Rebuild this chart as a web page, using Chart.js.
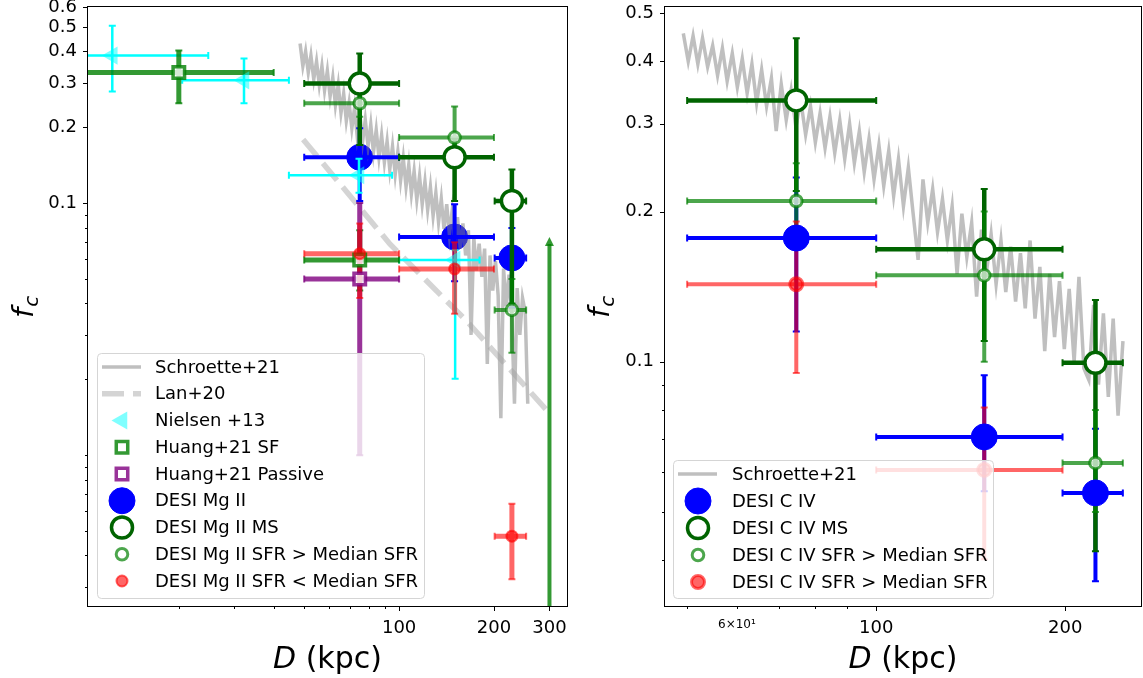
<!DOCTYPE html>
<html>
<head>
<meta charset="utf-8">
<script src="https://cdn.jsdelivr.net/npm/chart.js@4.4.1/dist/chart.umd.min.js"></script>
<style>
  body { margin: 0; background: #fff; }
  #wrap { position: relative; width: 1143px; height: 678px; overflow: hidden; }
  canvas { position: absolute; top: 0; }
  #mg { left: 0; }
  #civ { left: 585px; }
</style>
</head>
<body>
<div id="wrap">
  <canvas id="mg" width="585" height="678"></canvas>
  <canvas id="civ" width="558" height="678"></canvas>
</div>
<script>
// ---------- left panel : Mg II ----------
const mgD       = [75, 150, 228];
const mgDLo     = [50, 100, 201];
const mgDHi     = [100, 200, 253];
const mgAll     = [0.152, 0.0734, 0.0606];
const mgAllLo   = [0.102, 0.049, 0.0384];
const mgAllHi   = [0.198, 0.099, 0.0796];
const mgMs      = [0.298, 0.152, 0.102];
const mgMsLo    = [0.17, 0.102, 0.04];
const mgMsHi    = [0.392, 0.18, 0.136];
const mgHiSfr   = [0.249, 0.182, 0.0377];
const mgHiSfrLo = [0.22, 0.15, 0.0255];
const mgHiSfrHi = [0.28, 0.242, 0.05];
const mgLoSfr   = [0.063, 0.0548, 0.00477];
const mgLoSfrLo = [0.042, 0.0364, 0.00322];
const mgLoSfrHi = [0.083, 0.07, 0.00641];

const nielsenD    = [12.3, 32.2, 74.6, 150.6];
const nielsenDLo  = [10, 20.5, 44.7, 100];
const nielsenDHi  = [24.8, 44.7, 95, 180];
const nielsenFc   = [0.385, 0.307, 0.129, 0.0595];
const nielsenFcLo = [0.277, 0.249, 0.11, 0.0201];
const nielsenFcHi = [0.506, 0.375, 0.15, 0.065];

const huangSfD    = [20, 75];
const huangSfDLo  = [10, 50];
const huangSfDHi  = [40, 100];
const huangSfFc   = [0.33, 0.0595];
const huangSfFcLo = [0.249, 0.045];
const huangSfFcHi = [0.403, 0.078];
const huangLimD   = [300];       // lower limit arrow
const huangLimFc  = [0.0727];
const huangPaD    = [75];
const huangPaDLo  = [50];
const huangPaDHi  = [100];
const huangPaFc   = [0.05];
const huangPaFcLo = [0.01];
const huangPaFcHi = [0.1];

const lanD  = [49.6, 93.6, 164, 295];
const lanFc = [0.179, 0.0687, 0.034, 0.015];

// noisy Schroetter+21 Mg II curve
const schMgD = [48.5, 49.5, 50.5, 51.5, 52.5, 53.6, 54.7, 55.8, 56.9, 58.0,
  59.2, 60.4, 61.6, 62.8, 64.1, 65.4, 66.7, 68.0, 69.4, 70.8,
  72.2, 73.6, 75.1, 76.6, 78.1, 79.7, 81.3, 82.9, 84.6, 86.3,
  88.0, 89.8, 91.6, 93.4, 95.3, 97.2, 99.1, 101.1, 103.1, 105.2,
  107.3, 109.4, 111.6, 113.8, 116.1, 118.4, 120.8, 123.2, 125.7, 128.2,
  130.8, 133.4, 136.1, 138.8, 141.6, 144.4, 147.3, 150.2, 153.2, 156.3,
  159.4, 162.6, 165.9, 169.2, 172.6, 176.0, 179.5, 183.1, 186.8, 190.5,
  194.3, 198.2, 202.2, 206.2, 210.3, 214.5, 218.8, 223.2, 227.7, 232.3,
  236.9, 241.6, 246.4, 251.3, 256.0];
const schMgFc = [0.43, 0.35, 0.40, 0.33, 0.385, 0.31, 0.365, 0.295, 0.35, 0.28,
  0.335, 0.265, 0.315, 0.245, 0.295, 0.228, 0.272, 0.212, 0.25, 0.198,
  0.238, 0.185, 0.225, 0.176, 0.214, 0.168, 0.205, 0.159, 0.195, 0.152,
  0.186, 0.145, 0.176, 0.136, 0.168, 0.13, 0.16, 0.123, 0.151, 0.116,
  0.142, 0.109, 0.134, 0.103, 0.128, 0.099, 0.122, 0.094, 0.116, 0.089,
  0.11, 0.084, 0.104, 0.079, 0.099, 0.075, 0.093, 0.07, 0.088, 0.066,
  0.083, 0.062, 0.078, 0.03, 0.073, 0.054, 0.069, 0.051, 0.066, 0.023,
  0.062, 0.045, 0.059, 0.043, 0.014, 0.055, 0.039, 0.052, 0.036, 0.016,
  0.046, 0.03, 0.042, 0.037, 0.016];

// ---------- right panel : C IV ----------
const civD       = [74.6, 148.6, 223.4];
const civDLo     = [50, 100, 198];
const civDHi     = [100, 198, 247];
const civAll     = [0.177, 0.0707, 0.0546];
const civAllLo   = [0.115, 0.055, 0.0363];
const civAllHi   = [0.234, 0.094, 0.0734];
const civMs      = [0.334, 0.168, 0.0995];
const civMsLo    = [0.22, 0.11, 0.0417];
const civMsHi    = [0.445, 0.222, 0.133];
const civHiSfr   = [0.21, 0.149, 0.0627];
const civHiSfrLo = [0.175, 0.1, 0.05];
const civHiSfrHi = [0.25, 0.2, 0.08];
const civRedD    = [74.6, 148.6];
const civRedDLo  = [50, 100];
const civRedDHi  = [100, 198];
const civRed     = [0.143, 0.0607];
const civRedLo   = [0.095, 0.0402];
const civRedHi   = [0.191, 0.081];

// noisy Schroetter+21 C IV curve
const schCivD = [49.3, 50.2, 51.1, 52.0, 52.9, 53.9, 54.9, 55.9, 56.9, 57.9,
  59.0, 60.1, 61.2, 62.3, 63.4, 64.5, 65.7, 66.9, 68.1, 69.3,
  70.6, 71.9, 73.2, 74.5, 75.8, 77.2, 78.6, 80.0, 81.4, 82.9,
  84.4, 85.9, 87.5, 89.1, 90.7, 92.3, 94.0, 95.7, 97.4, 99.2,
  101.0, 102.8, 104.7, 106.6, 108.5, 110.5, 112.5, 114.5, 116.6, 118.7,
  120.8, 123.0, 125.2, 127.5, 129.8, 132.1, 134.5, 136.9, 139.4, 141.9,
  144.5, 147.1, 149.7, 152.4, 155.2, 158.0, 160.8, 163.7, 166.7, 169.7,
  172.7, 175.8, 179.0, 182.2, 185.5, 188.9, 192.3, 195.8, 199.3, 202.9,
  206.6, 210.3, 214.1, 218.0, 221.9, 225.9, 230.0, 234.2, 238.4, 242.7,
  247.1];
const schCivFc = [0.455, 0.40, 0.45, 0.395, 0.445, 0.39, 0.43, 0.375, 0.425, 0.365,
  0.415, 0.355, 0.405, 0.345, 0.395, 0.33, 0.385, 0.325, 0.37, 0.29,
  0.36, 0.305, 0.35, 0.295, 0.335, 0.285, 0.325, 0.275, 0.315, 0.268,
  0.31, 0.262, 0.305, 0.255, 0.30, 0.25, 0.29, 0.24, 0.28, 0.232,
  0.272, 0.225, 0.265, 0.215, 0.255, 0.205, 0.245, 0.198, 0.16, 0.232,
  0.19, 0.222, 0.182, 0.212, 0.175, 0.205, 0.15, 0.198, 0.162, 0.19,
  0.135, 0.184, 0.15, 0.18, 0.143, 0.175, 0.138, 0.17, 0.132, 0.165,
  0.128, 0.175, 0.122, 0.155, 0.105, 0.15, 0.112, 0.145, 0.106, 0.14,
  0.10, 0.148, 0.097, 0.092, 0.13, 0.09, 0.125, 0.085, 0.122, 0.078,
  0.11];

// ---------- ticks ----------
const mgXTicks   = [20, 30, 40, 50, 60, 70, 80, 90, 100, 200, 300];
const mgXMajor   = [100, 200, 300];
const mgXLabels  = ['100', '200', '300'];
const mgYTicks   = [0.003, 0.004, 0.005, 0.006, 0.007, 0.008, 0.009, 0.01, 0.02, 0.03, 0.04, 0.05, 0.06,
  0.07, 0.08, 0.09, 0.1, 0.2, 0.3, 0.4, 0.5, 0.6];
const mgYMajor   = [0.1, 0.2, 0.3, 0.4, 0.5, 0.6];
const mgYLabels  = ['0.1', '0.2', '0.3', '0.4', '0.5', '0.6'];
const civXTicks  = [50, 60, 70, 80, 90, 100, 200];
const civXMajor  = [100, 200];
const civXLabVal = [60, 100, 200];
const civXLabels = ['6\u00d710\u00b9', '100', '200'];
const civYTicks  = [0.04, 0.05, 0.06, 0.07, 0.08, 0.09, 0.1, 0.2, 0.3, 0.4, 0.5];
const civYMajor  = [0.1, 0.2, 0.3, 0.4, 0.5];
const civYLabels = ['0.1', '0.2', '0.3', '0.4', '0.5'];

// ---------- styles ----------
const FONT = 'DejaVu Sans';
const stBlue   = {shape: 'circle', r: 13, fill: '#0000ff', edge: '#0000ff', edgeW: 1, bar: '#0000ff', barW: 4};
const stMs     = {shape: 'circle', r: 10.5, fill: '#ffffff', edge: '#006400', edgeW: 3.5, bar: '#006400', barW: 4.5};
const stHiSfr  = {shape: 'circle', r: 5.8, fill: 'rgba(255,255,255,0.7)', edge: 'rgba(0,128,0,0.7)', edgeW: 3, bar: 'rgba(0,128,0,0.7)', barW: 4};
const stLoSfr  = {shape: 'circle', r: 5.5, fill: 'rgba(255,0,0,0.6)', edge: 'rgba(255,0,0,0.6)', edgeW: 2, bar: 'rgba(255,0,0,0.6)', barW: 5};
const stRedCiv = {shape: 'circle', r: 6.5, fill: 'rgba(255,0,0,0.6)', edge: 'rgba(255,0,0,0.6)', edgeW: 3, bar: 'rgba(255,0,0,0.6)', barW: 4};
const stHuangSf = {shape: 'rect', r: 8.1, fill: 'rgba(255,255,255,0.8)', edge: 'rgba(0,128,0,0.8)', edgeW: 3.5, bar: 'rgba(0,128,0,0.8)', barW: 5};
const stHuangPa = {shape: 'rect', r: 8.1, fill: 'rgba(255,255,255,0.8)', edge: 'rgba(128,0,128,0.8)', edgeW: 3.5, bar: 'rgba(128,0,128,0.8)', barW: 5};
const stNielsen = {shape: 'triangle', rot: -90, r: 10.5, fill: 'rgba(0,255,255,0.5)', edge: 'rgba(0,255,255,0.5)', edgeW: 0, bar: '#00ffff', barW: 2.5};
const stSch = {color: 'rgba(128,128,128,0.5)', width: 3.5};
const stLan = {color: 'rgba(160,160,160,0.45)', width: 5.5, dash: [22, 9]};

function pts(xs, ys) { return xs.map((x, i) => ({x: x, y: ys[i]})); }

function markerSet(label, d, dLo, dHi, fc, fcLo, fcHi, st) {
  return {
    label: label, data: pts(d, fc), showLine: false,
    pointStyle: st.shape, pointRadius: st.r, pointHoverRadius: st.r, pointRotation: st.rot || 0,
    pointBackgroundColor: st.fill, pointBorderColor: st.edge,
    pointBorderWidth: st.edgeW, pointHoverBorderWidth: st.edgeW,
    err: {xLo: dLo, xHi: dHi, yLo: fcLo, yHi: fcHi, color: st.bar, width: st.barW}
  };
}
function lineSet(label, d, fc, st) {
  return {
    label: label, data: pts(d, fc), showLine: true, pointRadius: 0, pointHoverRadius: 0,
    borderColor: st.color, borderWidth: st.width, borderDash: st.dash || [], tension: 0, fill: false
  };
}
function limitSet(d, fc, st) {
  return {label: '', data: pts(d, fc), showLine: false, pointRadius: 0, pointHoverRadius: 0,
    lim: {color: st.bar, width: 4}};
}

// error bars, drawn through the scales just before dataset number "at"
const errorBars = {
  id: 'errorBars',
  beforeDatasetDraw(chart, args, opts) {
    if (args.index !== opts.at) return;
    const ctx = chart.ctx, a = chart.chartArea;
    const xs = chart.scales.x, ys = chart.scales.y;
    ctx.save();
    ctx.beginPath();
    ctx.rect(a.left, a.top, a.right - a.left, a.bottom - a.top);
    ctx.clip();
    chart.data.datasets.forEach(ds => {
      if (ds.lim) {
        ds.data.forEach(p => {
          const px = xs.getPixelForValue(p.x), py = ys.getPixelForValue(p.y);
          ctx.strokeStyle = ds.lim.color; ctx.fillStyle = ds.lim.color;
          ctx.lineWidth = ds.lim.width;
          ctx.beginPath(); ctx.moveTo(px, a.bottom + 5); ctx.lineTo(px, py + 6); ctx.stroke();
          ctx.beginPath(); ctx.moveTo(px, py - 1); ctx.lineTo(px - 4.5, py + 8); ctx.lineTo(px + 4.5, py + 8);
          ctx.closePath(); ctx.fill();
        });
      }
      const e = ds.err;
      if (!e) return;
      ctx.strokeStyle = e.color;
      ds.data.forEach((p, i) => {
        const px = xs.getPixelForValue(p.x), py = ys.getPixelForValue(p.y);
        const x0 = xs.getPixelForValue(e.xLo[i]), x1 = xs.getPixelForValue(e.xHi[i]);
        const y0 = ys.getPixelForValue(e.yLo[i]), y1 = ys.getPixelForValue(e.yHi[i]);
        ctx.lineWidth = e.width; ctx.lineCap = 'butt';
        ctx.beginPath();
        ctx.moveTo(x0, py); ctx.lineTo(x1, py);
        ctx.moveTo(px, y0); ctx.lineTo(px, y1);
        ctx.stroke();
        const c = 3.5;
        ctx.lineWidth = 2;
        ctx.beginPath();
        ctx.moveTo(x0, py - c); ctx.lineTo(x0, py + c);
        ctx.moveTo(x1, py - c); ctx.lineTo(x1, py + c);
        ctx.moveTo(px - c, y0); ctx.lineTo(px + c, y0);
        ctx.moveTo(px - c, y1); ctx.lineTo(px + c, y1);
        ctx.stroke();
      });
    });
    ctx.restore();
  }
};

function drawMarker(ctx, ds, x, y) {
  const r = ds.pointRadius;
  ctx.beginPath();
  if (ds.pointStyle === 'circle') {
    ctx.arc(x, y, r, 0, 2 * Math.PI);
  } else if (ds.pointStyle === 'rect') {
    const s = r * Math.SQRT1_2;
    ctx.rect(x - s, y - s, 2 * s, 2 * s);
  } else {
    let a = (ds.pointRotation || 0) * Math.PI / 180;
    ctx.moveTo(x + Math.sin(a) * r, y - Math.cos(a) * r);
    a += 2 * Math.PI / 3;
    ctx.lineTo(x + Math.sin(a) * r, y - Math.cos(a) * r);
    a += 2 * Math.PI / 3;
    ctx.lineTo(x + Math.sin(a) * r, y - Math.cos(a) * r);
    ctx.closePath();
  }
  ctx.fillStyle = ds.pointBackgroundColor;
  ctx.fill();
  if (ds.pointBorderWidth > 0) {
    ctx.lineWidth = ds.pointBorderWidth;
    ctx.strokeStyle = ds.pointBorderColor;
    ctx.stroke();
  }
}

function roundBox(ctx, x0, y0, x1, y1, r) {
  ctx.beginPath();
  ctx.moveTo(x0 + r, y0);
  ctx.arcTo(x1, y0, x1, y1, r);
  ctx.arcTo(x1, y1, x0, y1, r);
  ctx.arcTo(x0, y1, x0, y0, r);
  ctx.arcTo(x0, y0, x1, y0, r);
  ctx.closePath();
}

// frame, tick marks, axis titles and legend
const decor = {
  id: 'decor',
  afterDatasetsDraw(chart, args, o) {
    const ctx = chart.ctx, a = chart.chartArea;
    const xs = chart.scales.x, ys = chart.scales.y;
    ctx.save();
    ctx.strokeStyle = '#000';
    ctx.lineWidth = 1;
    ctx.strokeRect(a.left - 0.5, a.top - 0.5, a.right - a.left + 1, a.bottom - a.top + 1);
    ctx.beginPath();
    xs.ticks.forEach(t => {
      const p = Math.round(xs.getPixelForValue(t.value)) + 0.5;
      ctx.moveTo(p, a.bottom); ctx.lineTo(p, a.bottom + (t.big ? 5 : 3));
    });
    ys.ticks.forEach(t => {
      const p = Math.round(ys.getPixelForValue(t.value)) + 0.5;
      ctx.moveTo(a.left, p); ctx.lineTo(a.left - (t.big ? 5 : 3), p);
    });
    ctx.stroke();

    // x title: D (kpc)
    ctx.fillStyle = '#000';
    ctx.textBaseline = 'alphabetic';
    ctx.font = 'italic 30px "' + FONT + '"';
    const wD = ctx.measureText('D').width;
    ctx.font = '30px "' + FONT + '"';
    const wR = ctx.measureText(' (kpc)').width;
    const cx = (a.left + a.right) / 2;
    let x = cx - (wD + wR) / 2;
    ctx.font = 'italic 30px "' + FONT + '"';
    ctx.textAlign = 'left';
    ctx.fillText('D', x, o.xTitleY);
    ctx.font = '30px "' + FONT + '"';
    ctx.fillText(' (kpc)', x + wD, o.xTitleY);

    // y title: f_c
    ctx.save();
    ctx.translate(o.fcX, o.fcY);
    ctx.rotate(-Math.PI / 2);
    ctx.font = 'italic 29px "' + FONT + '"';
    ctx.fillText('f', 0, 0);
    const wf = ctx.measureText('f').width;
    ctx.font = 'italic 20px "' + FONT + '"';
    ctx.fillText('c', wf + 1, 5);
    ctx.restore();

    // legend
    const L = o.legend;
    roundBox(ctx, L.box[0] + 0.5, L.box[1] + 0.5, L.box[2] + 0.5, L.box[3] + 0.5, 4);
    ctx.fillStyle = 'rgba(255,255,255,0.8)';
    ctx.fill();
    ctx.strokeStyle = '#d5d5d5';
    ctx.lineWidth = 1;
    ctx.stroke();
    L.order.forEach((name, i) => {
      const ds = chart.data.datasets.find(d => d.label === name);
      const y = L.row0 + i * L.step;
      if (ds.showLine) {
        ctx.save();
        ctx.beginPath();
        ctx.rect(L.mx - 20, y - 10, 40, 20);
        ctx.clip();
        ctx.strokeStyle = ds.borderColor;
        ctx.lineWidth = ds.borderWidth;
        ctx.setLineDash(ds.borderDash);
        ctx.beginPath();
        ctx.moveTo(L.mx - 20, y); ctx.lineTo(L.mx + 19, y);
        ctx.stroke();
        ctx.restore();
      } else {
        drawMarker(ctx, ds, L.mx, y);
      }
      ctx.fillStyle = '#000';
      ctx.font = '18px "' + FONT + '"';
      ctx.textBaseline = 'middle';
      ctx.textAlign = 'left';
      ctx.fillText(name, L.tx, y + 1);
    });
    ctx.restore();
  }
};

function axis(min, max, ticks, major, labVals, labels, fit, pad, smallVal) {
  return {
    type: 'logarithmic', min: min, max: max,
    grid: {display: false, drawTicks: false},
    border: {display: false},
    afterBuildTicks: s => { s.ticks = ticks.map(v => ({value: v, big: major.includes(v)})); },
    afterFit: fit,
    ticks: {
      autoSkip: false, maxRotation: 0, minRotation: 0, padding: pad, color: '#000',
      font: c => ({family: FONT, size: (c.tick && c.tick.value === smallVal) ? 12 : 18}),
      callback: v => { const k = labVals.indexOf(v); return k < 0 ? '' : labels[k]; }
    }
  };
}

function makeChart(id, sets, cfg) {
  sets.forEach((s, i) => { s.order = sets.length - i; });
  return new Chart(document.getElementById(id), {
    type: 'scatter',
    data: {datasets: sets},
    options: {
      responsive: false, animation: false, events: [],
      layout: {autoPadding: false, padding: {top: 7, right: cfg.padRight, left: 0, bottom: 0}},
      scales: {
        x: axis(cfg.xMin, cfg.xMax, cfg.xTicks, cfg.xMajor, cfg.xLabVal, cfg.xLabels,
          s => { s.height = 72; s.paddingLeft = 0; s.paddingRight = 0; }, 12, 60),
        y: axis(cfg.yMin, cfg.yMax, cfg.yTicks, cfg.yMajor, cfg.yMajor, cfg.yLabels,
          s => { s.width = cfg.yWidth; s.paddingTop = 0; s.paddingBottom = 0; }, 11, -1)
      },
      plugins: {
        legend: {display: false},
        tooltip: {enabled: false},
        errorBars: {at: cfg.barsAt},
        decor: cfg.decor
      }
    },
    plugins: [errorBars, decor]
  });
}

const mgSets = [
  markerSet('DESI Mg II', mgD, mgDLo, mgDHi, mgAll, mgAllLo, mgAllHi, stBlue),
  lineSet('Schroette+21', schMgD, schMgFc, stSch),
  lineSet('Lan+20', lanD, lanFc, stLan),
  markerSet('Nielsen +13', nielsenD, nielsenDLo, nielsenDHi, nielsenFc, nielsenFcLo, nielsenFcHi, stNielsen),
  markerSet('Huang+21 SF', huangSfD, huangSfDLo, huangSfDHi, huangSfFc, huangSfFcLo, huangSfFcHi, stHuangSf),
  limitSet(huangLimD, huangLimFc, stHuangSf),
  markerSet('Huang+21 Passive', huangPaD, huangPaDLo, huangPaDHi, huangPaFc, huangPaFcLo, huangPaFcHi, stHuangPa),
  markerSet('DESI Mg II MS', mgD, mgDLo, mgDHi, mgMs, mgMsLo, mgMsHi, stMs),
  markerSet('DESI Mg II SFR > Median SFR', mgD, mgDLo, mgDHi, mgHiSfr, mgHiSfrLo, mgHiSfrHi, stHiSfr),
  markerSet('DESI Mg II SFR < Median SFR', mgD, mgDLo, mgDHi, mgLoSfr, mgLoSfrLo, mgLoSfrHi, stLoSfr)
];

makeChart('mg', mgSets, {
  padRight: 18, yWidth: 88, barsAt: 3,
  xMin: 10.3, xMax: 341, xTicks: mgXTicks, xMajor: mgXMajor, xLabVal: mgXMajor, xLabels: mgXLabels,
  yMin: 0.00252, yMax: 0.6, yTicks: mgYTicks, yMajor: mgYMajor, yLabels: mgYLabels,
  decor: {
    xTitleY: 668, fcX: 33, fcY: 318,
    legend: {box: [97, 353, 424, 598], row0: 367, step: 26.75, mx: 122, tx: 155,
      order: ['Schroette+21', 'Lan+20', 'Nielsen +13', 'Huang+21 SF', 'Huang+21 Passive', 'DESI Mg II',
        'DESI Mg II MS', 'DESI Mg II SFR > Median SFR', 'DESI Mg II SFR < Median SFR']}
  }
});

const civSets = [
  lineSet('Schroette+21', schCivD, schCivFc, stSch),
  markerSet('DESI C IV', civD, civDLo, civDHi, civAll, civAllLo, civAllHi, stBlue),
  markerSet('DESI C IV MS', civD, civDLo, civDHi, civMs, civMsLo, civMsHi, stMs),
  markerSet('DESI C IV SFR > Median SFR', civD, civDLo, civDHi, civHiSfr, civHiSfrLo, civHiSfrHi, stHiSfr),
  markerSet('DESI C IV SFR > Median SFR ', civRedD, civRedDLo, civRedDHi, civRed, civRedLo, civRedHi, stRedCiv)
];

makeChart('civ', civSets, {
  padRight: 2, yWidth: 80, barsAt: 1,
  xMin: 46.1, xMax: 264, xTicks: civXTicks, xMajor: civXMajor, xLabVal: civXLabVal, xLabels: civXLabels,
  yMin: 0.0324, yMax: 0.514, yTicks: civYTicks, yMajor: civYMajor, yLabels: civYLabels,
  decor: {
    xTitleY: 668, fcX: 24, fcY: 318,
    legend: {box: [88, 460, 408, 598], row0: 474, step: 27, mx: 113, tx: 147,
      order: ['Schroette+21', 'DESI C IV', 'DESI C IV MS', 'DESI C IV SFR > Median SFR', 'DESI C IV SFR > Median SFR ']}
  }
});
</script>
</body>
</html>
